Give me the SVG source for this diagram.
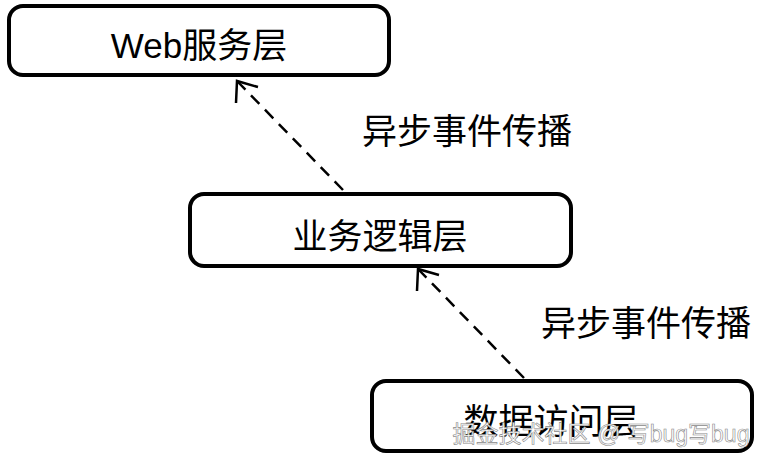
<svg xmlns="http://www.w3.org/2000/svg" width="763" height="461" viewBox="0 0 763 461">
<style>
.box{fill:#fff;stroke:#000;stroke-width:4}
.t{font-family:"Liberation Sans","Noto Sans CJK SC",sans-serif;font-size:35px;fill:#000;text-anchor:middle}
.l{font-family:"Liberation Sans","Noto Sans CJK SC",sans-serif;font-size:35px;fill:#000}
.c{stroke:#000;stroke-width:2.5;fill:none;stroke-dasharray:12,8}
.h{stroke:#000;stroke-width:2.5;fill:none}
</style>
<rect width="763" height="461" fill="#fff"/>
<g id="connectors">
<line class="c" x1="343" y1="190" x2="238" y2="82"/>
<polyline class="h" points="236,103 237,81 258,87"/>
<line class="c" x1="524" y1="378" x2="419" y2="270"/>
<polyline class="h" points="417,291 418,269 439,275"/>
<text class="l" x="362" y="144">异步事件传播</text>
<text class="l" x="541" y="336">异步事件传播</text>
</g>
<g id="web"><rect class="box" x="9" y="6" width="380" height="69" rx="14"/><text class="t" x="199" y="58">Web服务层</text></g>
<g id="biz"><rect class="box" x="190" y="194" width="381" height="72" rx="14"/><text class="t" x="380" y="249">业务逻辑层</text></g>
<g id="data"><rect class="box" x="372" y="381" width="380" height="70" rx="14"/><text class="t" x="551" y="434">数据访问层</text></g>
<text x="601" y="442" style="font-family:'Liberation Sans','Noto Sans CJK SC',sans-serif;font-size:23px;fill:#fff;stroke:#888;stroke-width:0.6;text-anchor:middle">掘金技术社区 @ 写bug写bug</text>
</svg>
